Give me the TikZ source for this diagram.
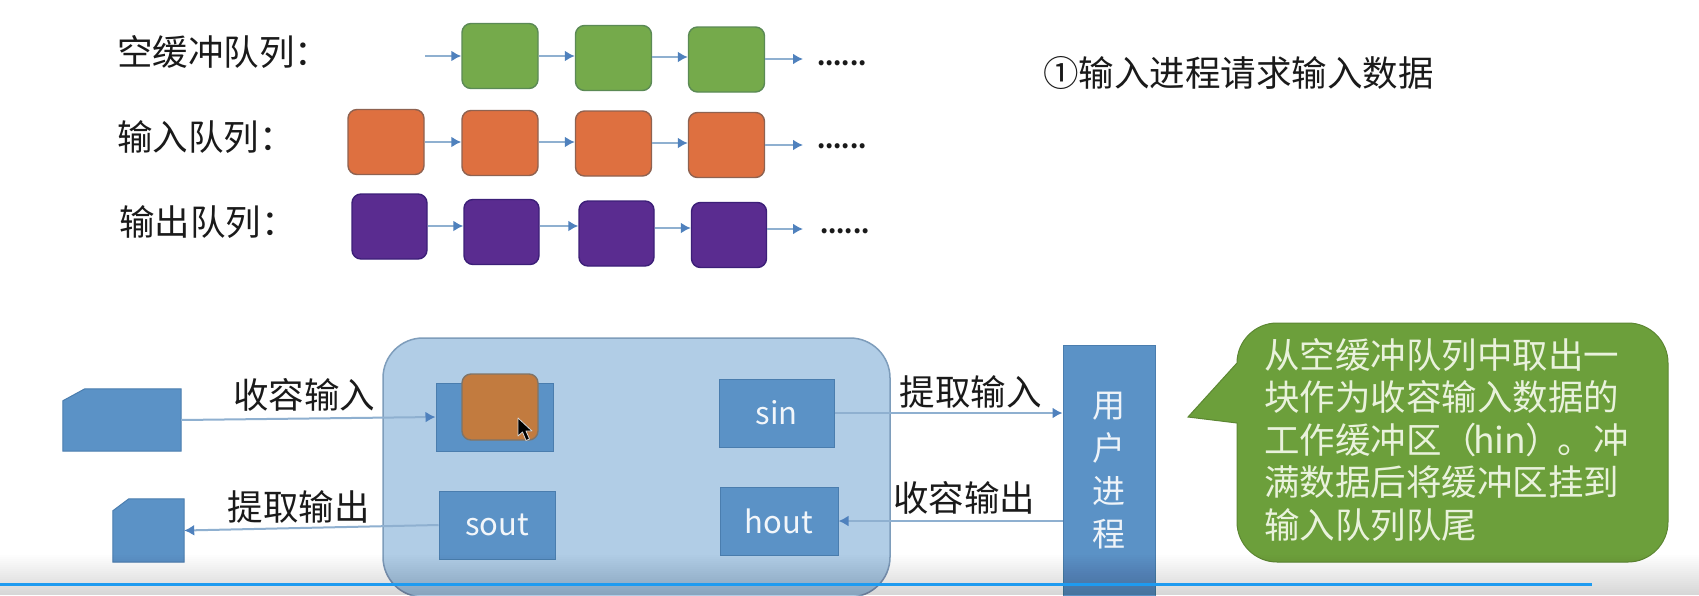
\documentclass[tikz,border=0pt]{standalone}
\usepackage{fontspec}
\setmainfont{Noto Sans CJK SC}
\usetikzlibrary{arrows.meta,calc}
\definecolor{qarrow}{HTML}{8FB0D0}
\definecolor{qtip}{HTML}{4F81BD}
\definecolor{boxblue}{HTML}{5B92C6}
\definecolor{boxedge}{HTML}{4A7DAE}
\definecolor{bigfill}{HTML}{B1CDE6}
\definecolor{bigedge}{HTML}{7E9DBB}
\definecolor{qgreen}{HTML}{75AA4B}
\definecolor{qgreenE}{HTML}{5B8A55}
\definecolor{qorange}{HTML}{DE7040}
\definecolor{qorangeE}{HTML}{8F6250}
\definecolor{qpurple}{HTML}{5A2C90}
\definecolor{qpurpleE}{HTML}{3C1F78}
\definecolor{brownbox}{HTML}{C27B3F}
\definecolor{brownedge}{HTML}{7F7468}
\definecolor{callgreen}{HTML}{6C9F3B}
\definecolor{calltext}{HTML}{E9F2DC}
\definecolor{linkline}{HTML}{1E9BF0}
\definecolor{txt}{HTML}{1A1A1A}
\tikzset{
  x=1pt,y=-1pt,
  qbox/.style={rectangle,rounded corners=9pt,minimum width=#1,minimum height=65pt,inner sep=0pt,line width=1.4pt},
  gbox/.style={qbox=76pt,fill=qgreen,draw=qgreenE},
  obox/.style={qbox=76pt,fill=qorange,draw=qorangeE},
  pbox/.style={qbox=75pt,fill=qpurple,draw=qpurpleE},
  qlink/.style={draw=qarrow,line width=2pt,-{Latex[length=10pt,width=11pt,color=qtip]}},
  link/.style={draw=qarrow,line width=2pt,-{Latex[length=10pt,width=11pt,color=qtip]}},
  lab/.style={font=\fontsize{35.5}{40}\selectfont,text=txt,inner sep=0pt},
  dots/.style={font=\bfseries\fontsize{23.5}{30}\selectfont,text=txt,inner sep=0pt},
  bluebox/.style={rectangle,fill=boxblue,draw=boxedge,line width=1pt,inner sep=0pt},
  devbox/.style={fill=boxblue,draw=boxedge,line width=1pt},
  ltxt/.style={text=white!92!boxblue,font=\fontsize{31}{36}\selectfont},
}
\begin{document}
\begin{tikzpicture}
\useasboundingbox (0,0) rectangle (1699,595);
\clip (0,0) rectangle (1699,595);
\fill[white] (0,0) rectangle (1699,595);

% queue labels
\node[lab,anchor=west] (l1) at (117,52) {空缓冲队列：};
\node[lab,anchor=west] (l2) at (117,137) {输入队列：};
\node[lab,anchor=west] (l3) at (119,222) {输出队列：};
\node[font=\fontsize{35.5}{40}\selectfont,text=txt,anchor=west,inner sep=0pt] (title) at (1043,73) {①输入进程请求输入数据};

% green queue
\coordinate (g0) at (425,56);
\node[gbox] (g1) at (500,56) {};
\node[gbox] (g2) at (613.5,58) {};
\node[gbox] (g3) at (726.5,59.5) {};
\coordinate (g4) at (803,59);
\coordinate (gb) at (0,57);
\node[dots,anchor=west] (gd) at (817,63) {......};
\draw[qlink] (g0) -- (g0 -| g1.west);
\draw[qlink] (g1.east |- g0) -- (g2.west |- g0);
\draw[qlink] (g2.east |- gb) -- (g3.west |- gb);
\draw[qlink] (g3.east |- g4) -- (g4);

% orange queue
\node[obox] (o1) at (386,142) {};
\node[obox] (o2) at (500,143) {};
\node[obox] (o3) at (613.5,143.5) {};
\node[obox] (o4) at (726.5,145) {};
\coordinate (o5) at (803,145);
\coordinate (oa) at (0,142);
\coordinate (ob) at (0,143);
\node[dots,anchor=west] (od) at (817,146) {......};
\draw[qlink] (o1.east |- oa) -- (o2.west |- oa);
\draw[qlink] (o2.east |- oa) -- (o3.west |- oa);
\draw[qlink] (o3.east |- ob) -- (o4.west |- ob);
\draw[qlink] (o4.east |- o5) -- (o5);

% purple queue
\node[pbox] (p1) at (389.5,226.5) {};
\node[pbox] (p2) at (501.5,232) {};
\node[pbox] (p3) at (616.5,233.5) {};
\node[pbox] (p4) at (729,235) {};
\coordinate (p5) at (803,229);
\coordinate (pa) at (0,226);
\coordinate (pb) at (0,228);
\node[dots,anchor=west] (pd) at (820,231) {......};
\draw[qlink] (p1.east |- pa) -- (p2.west |- pa);
\draw[qlink] (p2.east |- pa) -- (p3.west |- pa);
\draw[qlink] (p3.east |- pb) -- (p4.west |- pb);
\draw[qlink] (p4.east |- p5) -- (p5);

% big container
\node[rectangle,rounded corners=40pt,fill=bigfill,draw=bigedge,line width=1.5pt,minimum width=507pt,minimum height=259pt,inner sep=0pt] (big) at (636.5,467.5) {};

% devices
\node[minimum width=118pt,minimum height=62pt,inner sep=0pt] (d1) at (122,420) {};
\draw[devbox] ($(d1.north west)+(0,12)$) -- ($(d1.north west)+(22,0)$) -- (d1.north east) -- (d1.south east) -- (d1.south west) -- cycle;
\node[minimum width=71pt,minimum height=63pt,inner sep=0pt] (d2) at (148.5,530.5) {};
\draw[devbox] ($(d2.north west)+(0,12)$) -- ($(d2.north west)+(16,0)$) -- (d2.north east) -- (d2.south east) -- (d2.south west) -- cycle;

% buffers
\node[bluebox,minimum width=117pt,minimum height=68pt] (hin) at (494.5,417) {};
\node[bluebox,minimum width=116pt,minimum height=68pt,ltxt] (sout) at (497,525) {sout};
\node[bluebox,minimum width=115pt,minimum height=68pt,ltxt] (sin) at (776.5,413) {sin};
\node[bluebox,minimum width=118pt,minimum height=68pt,ltxt] (hout) at (779,521) {hout};
\node[rectangle,rounded corners=9pt,fill=brownbox,draw=brownedge,line width=1.4pt,minimum width=76pt,minimum height=66pt,inner sep=0pt] (work) at (500,407) {};

% cursor
\draw[fill=black,draw=white!85!black,line width=.8pt,line join=round]
  (518,418) -- (518,436) -- (522.5,432) -- (526,440.5) -- (529.5,439) -- (526,431) -- (532,431) -- cycle;

% user process
\node[rectangle,fill=boxblue,draw=boxedge,line width=1pt,minimum width=92pt,minimum height=252pt,inner sep=0pt,align=center,text=white!90!boxblue,font=\fontsize{33}{43}\selectfont] (user) at (1109,471) {用\\户\\进\\程};

% connectors
\draw[link] (d1.east) -- (hin.west);
\draw[link] (sout.west) -- (d2.east);
\draw[link] (sin.east) -- (user.west |- sin.east);
\draw[link] (user.west |- hout.east) -- (hout.east);

% connector labels
\node[lab,anchor=center] (t1) at (304,395) {收容输入};
\node[lab,anchor=center] (t2) at (298.5,507) {提取输出};
\node[lab,anchor=center] (t3) at (970.5,392) {提取输入};
\node[lab,anchor=center] (t4) at (964,498) {收容输出};

% callout
\fill[callgreen,draw=callgreen!85!black,line width=1pt]
  (1237,363) .. controls (1237,341) and (1255,323) .. (1277,323)
  -- (1628,323) .. controls (1650,323) and (1668,341) .. (1668,363)
  -- (1668,522) .. controls (1668,544) and (1650,562) .. (1628,562)
  -- (1277,562) .. controls (1255,562) and (1237,544) .. (1237,522)
  -- (1237,423) -- (1188,417) -- cycle;
\node[anchor=north west,inner sep=0pt,align=left,text=calltext,font=\fontsize{35.5}{42.5}\selectfont] (ctext) at (1264,338) {从空缓冲队列中取出一\\块作为收容输入数据的\\工作缓冲区（\hspace{-4pt}hin\hspace{-1pt}）\hspace{-3pt}。冲\\满数据后将缓冲区挂到\\输入队列队尾};

% player shadow
\foreach \i in {0,...,19}{
  \fill[black,opacity=.009] (0,555+2*\i) rectangle (1699,595);
}
\draw[linkline,line width=3pt] (0,584) -- (1592,584);
\end{tikzpicture}
\end{document}
